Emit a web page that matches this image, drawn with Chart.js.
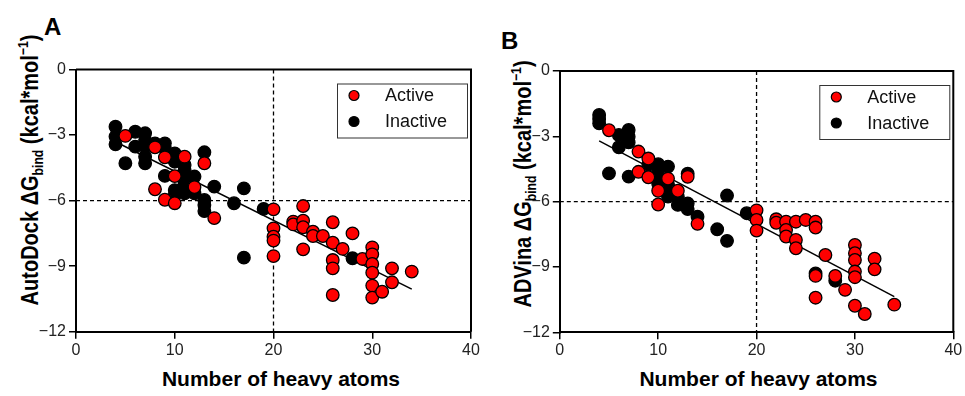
<!DOCTYPE html>
<html>
<head>
<meta charset="utf-8">
<script src="https://cdn.jsdelivr.net/npm/chart.js@4/dist/chart.umd.min.js"></script>
<style>
  body { margin: 0; background: #fff; font-family: 'Liberation Sans', Arial, sans-serif; }
  .panel { position: absolute; top: 0; height: 396px; }
  .letter { position: absolute; font-weight: bold; font-size: 24px; color: #000; }
  .ytitle { position: absolute; width: 340px; height: 22px; text-align: center; white-space: nowrap;
            font-weight: bold; font-size: 23px; line-height: 22px; color: #000;
            transform: rotate(-90deg) scaleX(0.87); transform-origin: 50% 50%; }
  .ytitle sub { font-size: 14px; vertical-align: -5px; }
  .ytitle sup { font-size: 14px; vertical-align: 10px; }
  .xtitle { position: absolute; width: 300px; text-align: center; white-space: nowrap;
            font-weight: bold; font-size: 21px; line-height: 24px; color: #000; }
</style>
</head>
<body>
<div class="letter" style="left:44px;top:13px;">A</div>
<div class="letter" style="left:501px;top:27px;">B</div>
<div class="ytitle" style="left:-147.5px;top:159px;">AutoDock ΔG<sub>bind</sub> (kcal*mol<sup>−1</sup>)</div>
<div class="ytitle" style="left:346px;top:173px;">ADVina ΔG<sub>bind</sub> (kcal*mol<sup>−1</sup>)</div>
<div class="xtitle" style="left:131px;top:367px;">Number of heavy atoms</div>
<div class="xtitle" style="left:608.5px;top:367px;">Number of heavy atoms</div>
<div class="panel" style="left:0;width:485px;"><canvas id="chartA"></canvas></div>
<div class="panel" style="left:485px;width:480px;"><canvas id="chartB"></canvas></div>
<script>
// axis ticks
const xTicks = [0, 10, 20, 30, 40];
const yTicks = [-12, -9, -6, -3, 0];

// AutoDock panel: [heavy atoms, dG]
const activeA = [[5,-3.04],[8,-3.56],[9,-4.02],[8,-5.48],[9,-5.96],[10,-6.12],[10,-4.88],[11,-3.99],[12,-5.38],[13,-4.29],
  [14,-6.8],[20,-6.4],[20,-7.27],[20,-7.65],[20,-7.83],[20,-8.54],[22,-6.96],[22,-7.09],[23,-6.25],[23,-6.92],
  [23,-7.22],[23,-8.23],[24,-7.42],[24,-7.62],[25,-7.62],[26,-6.99],[26,-7.93],[26,-8.72],[26,-9.1],[26,-10.32],
  [27,-8.21],[28,-7.5],[29,-8.67],[30,-8.14],[30,-8.46],[30,-8.9],[30,-9.3],[30,-9.89],[30,-10.44],[31,-10.17],
  [32,-9.1],[32,-9.74],[34,-9.25]];
const inactiveA = [[4,-2.62],[4,-3.07],[4,-3.42],[5,-4.29],[6,-2.85],[6,-3.53],[7,-2.92],[7,-3.23],[7,-3.53],[7,-3.99],
  [7,-4.29],[8,-3.38],[9,-3.38],[9,-3.61],[9,-4.87],[10,-3.84],[10,-4.22],[10,-5.52],[10,-5.74],[11,-4.37],
  [11,-4.6],[11,-4.9],[11,-5.21],[11,-5.67],[12,-4.9],[12,-5.67],[13,-3.79],[13,-5.97],[13,-6.2],[13,-6.48],
  [14,-5.36],[16,-6.12],[17,-5.44],[17,-8.61],[19,-6.38],[28,-8.64]];
const fitA = [[4.5,-3.42],[34,-10.05]];

// ADVina panel
const activeB = [[5,-2.72],[8,-3.7],[8,-4.63],[9,-4.02],[9,-4.88],[10,-5.5],[10,-6.13],[11,-4.94],[12,-5.5],[13,-4.86],
  [14,-7.02],[20,-6.4],[20,-6.84],[20,-7.33],[22,-6.81],[22,-6.97],[23,-6.92],[23,-7.3],[23,-7.6],[24,-6.92],
  [24,-7.76],[24,-8.14],[25,-6.84],[26,-6.92],[26,-7.19],[26,-9.41],[26,-10.41],[27,-8.45],[28,-9.41],[29,-10.05],
  [30,-7.99],[30,-8.37],[30,-8.68],[30,-9.21],[30,-9.47],[30,-10.78],[31,-11.16],[32,-8.62],[32,-9.11],[34,-10.73]];
const inactiveB = [[4,-2.02],[4,-2.2],[4,-2.4],[5,-4.7],[6,-2.94],[6,-3.5],[7,-2.71],[7,-3.02],[7,-3.28],[7,-4.85],
  [9,-4.3],[10,-4.28],[10,-4.58],[10,-4.9],[10,-5.18],[11,-4.39],[11,-5.2],[11,-5.6],[11,-5.77],[12,-5.77],
  [12,-6.15],[13,-4.72],[13,-6.08],[13,-6.34],[14,-6.69],[16,-7.27],[17,-5.72],[17,-7.8],[19,-6.53],[26,-9.3],
  [28,-9.63]];
const fitB = [[4,-3.21],[34,-10.36]];

const cutX = 20, cutY = -6;
const FONT = "'Liberation Sans', Arial, sans-serif";

function pts(arr) { return arr.map(p => ({x: p[0], y: p[1]})); }
function fmt(v) { return v < 0 ? '\u2212' + Math.abs(v) : '' + v; }

// dashed threshold lines, drawn under the points
const cutLines = {
  id: 'cutLines',
  beforeDatasetsDraw(chart) {
    const c = chart.ctx, a = chart.chartArea;
    const px = chart.scales.x.getPixelForValue(cutX);
    const py = chart.scales.y.getPixelForValue(cutY);
    c.save();
    c.strokeStyle = '#000';
    c.lineWidth = 1.3;
    c.setLineDash([4, 3]);
    c.beginPath();
    c.moveTo(px, a.top); c.lineTo(px, a.bottom);
    c.moveTo(a.left, py); c.lineTo(a.right, py);
    c.stroke();
    c.restore();
  }
};

// top/right frame and the boxed legend
const frameLegend = {
  id: 'frameLegend',
  afterDraw(chart) {
    const c = chart.ctx, a = chart.chartArea;
    c.save();
    c.strokeStyle = '#000';
    c.lineWidth = 2;
    c.beginPath();
    c.moveTo(a.left, a.top); c.lineTo(a.right, a.top); c.lineTo(a.right, a.bottom);
    c.stroke();
    const bx = a.right - 134, by = a.top + 14;
    c.lineWidth = 1;
    c.strokeStyle = '#333';
    c.fillStyle = '#fff';
    c.fillRect(bx, by, 130, 54);
    c.strokeRect(bx + 0.5, by + 0.5, 130, 54);
    const items = [['Active', '#ff0000', 12], ['Inactive', '#000', 38]];
    c.font = '18px ' + FONT;
    c.textBaseline = 'middle';
    items.forEach(it => {
      c.beginPath();
      c.arc(bx + 17, by + it[2], 5, 0, Math.PI * 2);
      c.fillStyle = it[1];
      c.fill();
      c.lineWidth = 1.2;
      c.strokeStyle = '#000';
      c.stroke();
      c.fillStyle = '#111';
      c.fillText(it[0], bx + 48, by + it[2] + 1);
    });
    c.restore();
  }
};

function makeChart(id, active, inactive, fit, pad) {
  return new Chart(document.getElementById(id), {
    type: 'scatter',
    data: {
      datasets: [
        { label: 'Active', data: pts(active), backgroundColor: '#ff0000', borderColor: '#000',
          borderWidth: 1.3, pointRadius: 6.3, order: 1 },
        { label: 'Inactive', data: pts(inactive), backgroundColor: '#000', borderColor: '#000',
          borderWidth: 1.3, pointRadius: 6.3, order: 2 },
        { type: 'line', data: pts(fit), borderColor: '#000', borderWidth: 1.5, pointRadius: 0,
          fill: false, order: 3 }
      ]
    },
    options: {
      responsive: true,
      maintainAspectRatio: false,
      animation: false,
      layout: { padding: { top: pad.top, right: pad.right, left: 0, bottom: 4.4 } },
      plugins: { legend: { display: false }, tooltip: { enabled: false } },
      scales: {
        x: {
          type: 'linear', min: 0, max: 40,
          afterBuildTicks: s => { s.ticks = xTicks.map(v => ({value: v})); },
          afterFit: s => { s.height = pad.xh; },
          ticks: { color: '#222', font: { size: 16, family: FONT }, padding: 2, callback: fmt },
          grid: { drawOnChartArea: false, tickLength: 7, color: '#000', lineWidth: 1.5 },
          border: { color: '#000', width: 2 }
        },
        y: {
          type: 'linear', min: -12, max: 0,
          afterBuildTicks: s => { s.ticks = yTicks.map(v => ({value: v})); },
          afterFit: s => { s.width = pad.yw; },
          ticks: { color: '#222', font: { size: 16, family: FONT }, padding: 3, callback: fmt },
          grid: { drawOnChartArea: false, tickLength: 7, color: '#000', lineWidth: 1.5 },
          border: { color: '#000', width: 2 }
        }
      }
    },
    plugins: [cutLines, frameLegend]
  });
}

makeChart('chartA', activeA, inactiveA, fitA, { top: 69.5, right: 14, xh: 59.9, yw: 76 });
makeChart('chartB', activeB, inactiveB, fitB, { top: 71, right: 11.7, xh: 59.3, yw: 74.8 });
</script>
</body>
</html>
